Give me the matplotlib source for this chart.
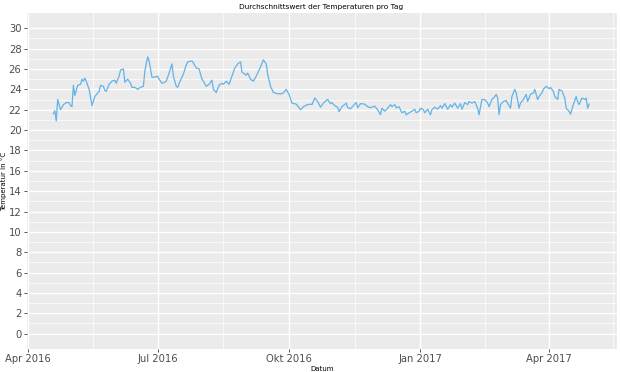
import pandas as pd
import numpy as np
import matplotlib
matplotlib.use('Agg')
import matplotlib.pyplot as plt
import matplotlib.dates as mdates

# daily mean temperature (day offset from 2016-04-01, °C)
start = pd.Timestamp('2016-04-01')
day_offset = [18, 19, 20, 21, 23, 25, 27, 29, 30, 31, 32, 33, 35, 37, 38, 39, 40, 41, 43, 45,
              47, 50, 51, 53, 54, 55, 57, 59, 61, 62, 64, 65, 67, 68, 70, 72, 73, 75, 77, 79,
              81, 82, 84, 85, 87, 89, 91, 92, 94, 96, 97, 99, 101, 102, 104, 105, 107, 109, 111, 112,
              115, 116, 118, 120, 122, 123, 125, 127, 129, 130, 132, 134, 136, 137, 139, 141, 143, 145, 147, 149,
              150, 152, 153, 154, 156, 158, 160, 161, 163, 165, 167, 168, 170, 172, 174, 177, 179, 181, 183, 185,
              188, 191, 193, 196, 198, 199, 201, 203, 205, 207, 209, 210, 212, 213, 215, 217, 218, 220, 223, 224,
              226, 228, 230, 231, 233, 236, 238, 240, 243, 245, 247, 248, 250, 252, 254, 255, 257, 258, 260, 262,
              264, 265, 267, 269, 271, 272, 274, 275, 277, 278, 280, 282, 283, 285, 287, 289, 290, 292, 294, 296,
              297, 299, 301, 303, 304, 306, 308, 309, 311, 313, 315, 316, 318, 320, 322, 323, 325, 327, 328, 329,
              330, 331, 333, 335, 336, 338, 339, 341, 342, 344, 345, 347, 349, 350, 352, 354, 355, 357, 358, 360,
              361, 363, 365, 366, 368, 369, 371, 372, 374, 376, 377, 379, 380, 382, 384, 385, 386, 388, 390, 391,
              392, 393]
temperature = [21.6, 21.9, 20.9, 23.0, 22.0, 22.5, 22.7, 22.7, 22.4, 22.3, 24.4, 23.4, 24.4, 24.5, 25.0, 24.8, 25.1, 24.8, 24.0, 22.4,
               23.3, 23.8, 24.4, 24.3, 23.9, 23.8, 24.5, 24.8, 24.9, 24.6, 25.3, 25.9, 26.0, 24.7, 25.0, 24.6, 24.2, 24.2, 24.0, 24.2,
               24.3, 25.8, 27.2, 26.8, 25.2, 25.2, 25.3, 25.0, 24.6, 24.7, 24.8, 25.6, 26.5, 25.3, 24.3, 24.2, 24.9, 25.5, 26.4, 26.7,
               26.8, 26.6, 26.1, 26.0, 25.0, 24.8, 24.3, 24.5, 24.9, 24.0, 23.7, 24.4, 24.6, 24.5, 24.8, 24.5, 25.3, 26.1, 26.5, 26.7,
               25.7, 25.5, 25.4, 25.6, 25.0, 24.8, 25.3, 25.6, 26.2, 26.9, 26.5, 25.5, 24.3, 23.7, 23.6, 23.55, 23.65, 24.0, 23.5, 22.65,
               22.55, 22.0, 22.3, 22.5, 22.55, 22.5, 23.15, 22.8, 22.25, 22.65, 22.9, 23.0, 22.6, 22.7, 22.4, 22.25, 21.8, 22.3, 22.65, 22.2,
               22.1, 22.4, 22.7, 22.2, 22.6, 22.55, 22.3, 22.2, 22.35, 22.0, 21.5, 22.15, 21.85, 22.15, 22.5, 22.3, 22.5, 22.2, 22.3, 21.7,
               21.85, 21.5, 21.7, 21.85, 22.05, 21.7, 21.85, 22.15, 22.0, 21.7, 22.05, 21.5, 22.0, 22.25, 22.05, 22.4, 22.15, 22.6, 22.05, 22.5,
               22.25, 22.65, 22.15, 22.6, 22.05, 22.7, 22.5, 22.8, 22.65, 22.8, 22.15, 21.5, 23.0, 23.0, 22.65, 22.3, 23.0, 23.3, 23.5, 23.15,
               21.5, 22.5, 22.8, 22.9, 22.65, 22.15, 23.3, 24.0, 23.65, 22.15, 22.65, 23.0, 23.5, 22.8, 23.5, 23.65, 24.0, 23.0, 23.3, 23.65,
               24.0, 24.3, 24.05, 24.2, 23.8, 23.3, 23.0, 24.0, 23.85, 23.15, 22.15, 21.85, 21.55, 22.5, 23.3, 22.8, 22.5, 23.15, 23.0, 23.15,
               22.15, 22.55]

tick_dates = ['2016-04-01', '2016-07-01', '2016-10-01', '2017-01-01', '2017-04-01']
tick_labels = ['Apr 2016', 'Jul 2016', 'Okt 2016', 'Jan 2017', 'Apr 2017']

dates = start + pd.to_timedelta(day_offset, unit='D')

fig = plt.figure(figsize=(6.2, 3.72), dpi=100)
ax = fig.add_axes([0.0435, 0.062, 0.9515, 0.903])
ax.set_facecolor('#EBEBEB')
for s in ax.spines.values():
    s.set_visible(False)

ax.plot(dates, temperature, color='#62B3E8', lw=0.9, zorder=3)

# x axis: fixed German month labels, minor grid at midpoints
major = mdates.date2num(pd.to_datetime(tick_dates))
minor = (major[:-1] + major[1:]) / 2
minor = np.append(minor, major[-1] + (major[-1] - major[-2]) / 2)
ax.set_xticks(major)
ax.set_xticklabels(tick_labels)
ax.set_xticks(minor, minor=True)
ax.set_xlim(mdates.date2num(start) - 0.5, mdates.date2num(start) + 412.5)

ax.set_yticks(np.arange(0, 31, 2))
ax.set_yticks(np.arange(1, 31, 2), minor=True)
ax.set_ylim(-1.5, 31.5)

ax.grid(which='major', color='white', lw=1.0)
ax.grid(which='minor', color='white', lw=0.5)
ax.set_axisbelow(True)

ax.tick_params(which='major', length=2.5, width=0.6, color='#333333',
               labelsize=7.2, labelcolor='#4D4D4D', pad=1.5)
ax.tick_params(which='minor', length=0)

ax.set_xlabel('Datum', fontsize=5, labelpad=1)
ax.set_ylabel('Temperatur in °C', fontsize=5)
ax.yaxis.set_label_coords(-0.034, 0.5)
fig.suptitle('Durchschnittswert der Temperaturen pro Tag', fontsize=5.3, x=0.518, y=0.99)

fig.savefig('out.png', dpi=100)
